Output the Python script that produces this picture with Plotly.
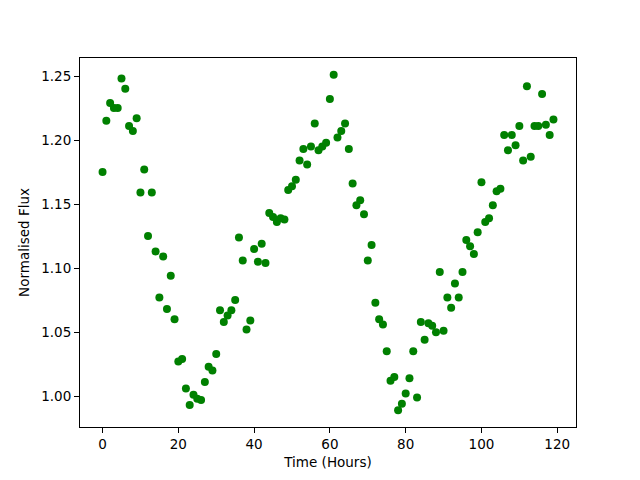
import plotly.graph_objects as go

hours = list(range(120))
flux = [
    1.175, 1.215, 1.229, 1.225, 1.225, 1.248, 1.240, 1.211, 1.207, 1.217,
    1.159, 1.177, 1.125, 1.159, 1.113, 1.077, 1.109, 1.068, 1.094, 1.060,
    1.027, 1.029, 1.006, 0.993, 1.001, 0.998, 0.997, 1.011, 1.023, 1.020,
    1.033, 1.067, 1.058, 1.063, 1.067, 1.075, 1.124, 1.106, 1.052, 1.059,
    1.115, 1.105, 1.119, 1.104, 1.143, 1.140, 1.136, 1.139, 1.138, 1.161,
    1.164, 1.169, 1.184, 1.193, 1.181, 1.195, 1.213, 1.192, 1.195, 1.198,
    1.232, 1.251, 1.202, 1.207, 1.213, 1.193, 1.166, 1.149, 1.153, 1.142,
    1.106, 1.118, 1.073, 1.060, 1.056, 1.035, 1.012, 1.015, 0.989, 0.994,
    1.002, 1.014, 1.035, 0.999, 1.058, 1.044, 1.057, 1.055, 1.050, 1.097,
    1.051, 1.077, 1.069, 1.088, 1.077, 1.097, 1.122, 1.117, 1.111, 1.128,
    1.167, 1.136, 1.139, 1.149, 1.160, 1.162, 1.204, 1.192, 1.204, 1.196,
    1.211, 1.184, 1.242, 1.187, 1.211, 1.211, 1.236, 1.212, 1.204, 1.216,
]
x_ticks = [0, 20, 40, 60, 80, 100, 120]
y_ticks = [1.00, 1.05, 1.10, 1.15, 1.20, 1.25]

def padded(vals, frac=0.05):
    lo, hi = min(vals), max(vals)
    d = (hi - lo) * frac
    return [lo - d, hi + d]

fig = go.Figure(go.Scatter(
    x=hours, y=flux, mode="markers",
    marker=dict(color="#008000", size=8, line=dict(width=0)),
))

font = dict(family="DejaVu Sans", size=13.5, color="black")
axis_common = dict(
    showgrid=False, zeroline=False, showline=True, linecolor="black",
    linewidth=1, mirror=True, ticks="outside", ticklen=5, tickwidth=1,
    tickcolor="black", tickfont=font,
)
# the page body adds an 8px offset, so the figure is 8px smaller and margins shifted
fig.update_layout(
    width=632, height=472,
    margin=dict(l=72, r=64, t=50, b=53),
    paper_bgcolor="white", plot_bgcolor="white",
    showlegend=False, font=font,
    xaxis=dict(range=padded(hours), tickvals=x_ticks,
               title=dict(text="Time (Hours)", font=font, standoff=6),
               **axis_common),
    yaxis=dict(range=padded(flux), tickvals=y_ticks, tickformat=".2f",
               title=dict(text="Normalised Flux", font=font, standoff=8),
               **axis_common),
)
fig.write_html("out.html")
